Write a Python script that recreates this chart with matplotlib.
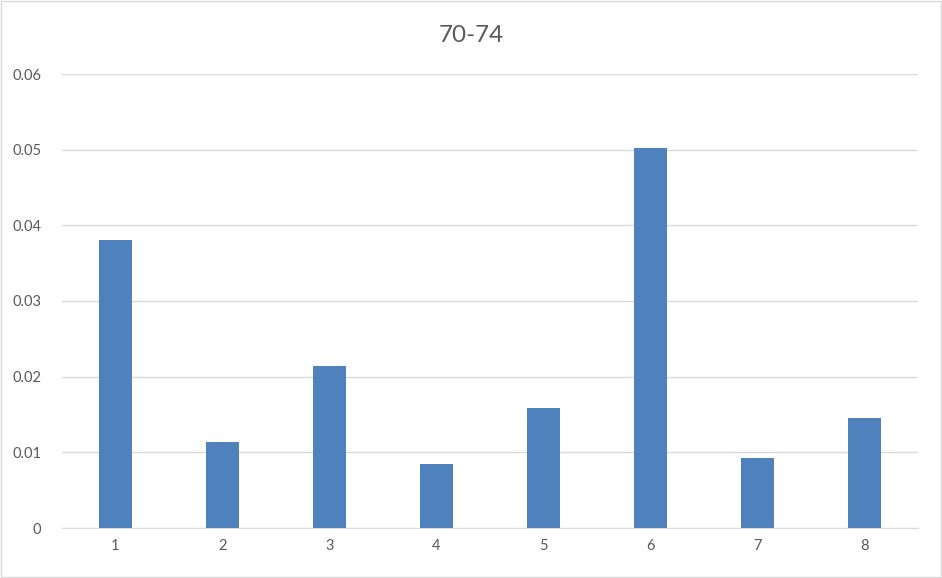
import matplotlib
matplotlib.use("Agg")
import matplotlib.pyplot as plt

# данные
categories = ["1", "2", "3", "4", "5", "6", "7", "8"]
values = [0.0381, 0.0114, 0.0214, 0.0085, 0.0159, 0.0502, 0.0093, 0.0146]
y_ticks = [0, 0.01, 0.02, 0.03, 0.04, 0.05, 0.06]
y_labels = ["0", "0.01", "0.02", "0.03", "0.04", "0.05", "0.06"]

plt.rcParams['font.family'] = ['Lato', 'DejaVu Sans']

fig = plt.figure(figsize=(9.42, 5.78), dpi=100)
ax = fig.add_axes([62 / 942, 1 - 528 / 578, 856 / 942, 454 / 578])

x = range(len(categories))
ax.bar(x, values, width=0.31, color='#4f81bd', zorder=3)

ax.set_xlim(-0.5, len(categories) - 0.5)
ax.set_ylim(0, 0.06)
ax.set_xticks(list(x))
ax.set_xticklabels(categories)
ax.set_yticks(y_ticks)
ax.set_yticklabels(y_labels)
ax.tick_params(axis='both', length=0, labelsize=10.5, colors='#595959')
ax.tick_params(axis='x', pad=8)
ax.tick_params(axis='y', pad=15)
ax.grid(axis='y', color='#d9d9d9', linewidth=1, zorder=0)
for s in ['top', 'right', 'left']:
    ax.spines[s].set_visible(False)
ax.spines['bottom'].set_color('#d9d9d9')

fig.text(0.5, 1 - 35 / 578, "70-74", ha='center', va='center', fontsize=17.5, color='#595959')

# рамка вокруг графика
fig.patches.append(plt.Rectangle((0.001, 0.001), 0.998, 0.998, transform=fig.transFigure,
                                 fill=False, edgecolor='#d9d9d9', linewidth=1))

fig.savefig("out.png", dpi=100)
